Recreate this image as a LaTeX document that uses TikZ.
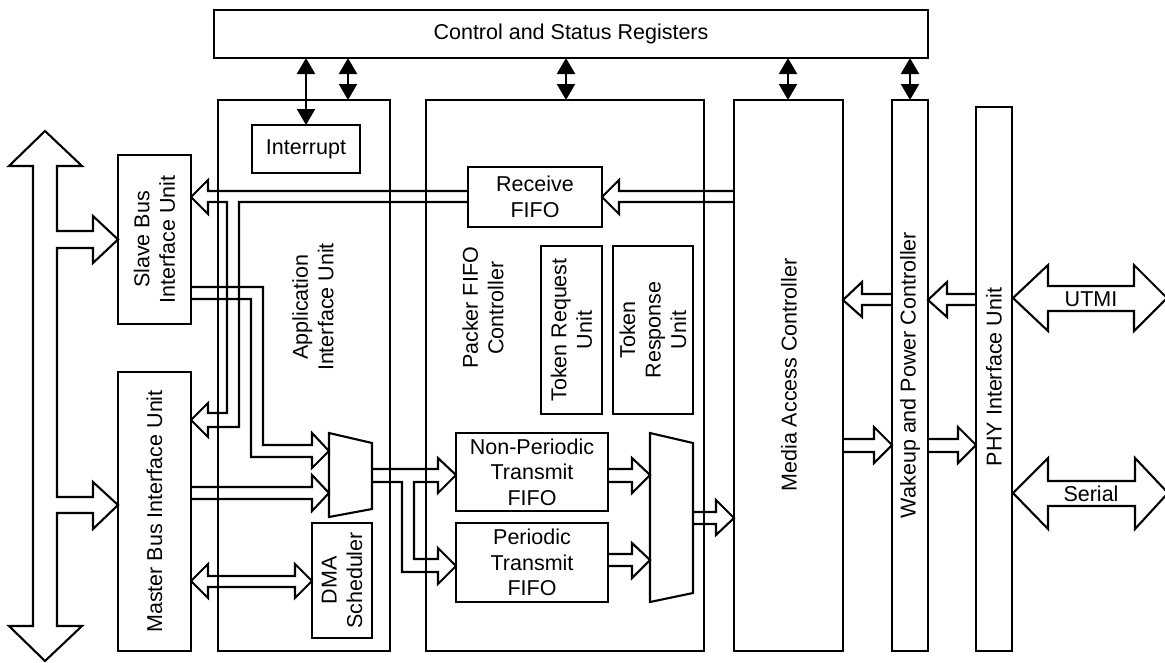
\documentclass[tikz,border=0pt]{standalone}
\usepackage{fontspec}
\setmainfont{Liberation Sans}
\usetikzlibrary{arrows.meta}
\begin{document}
\begin{tikzpicture}[x=1pt,y=-1pt,
  lw/.style={line width=2.1pt},
  box/.style={draw, line width=2.1pt, inner sep=0pt, outer sep=0pt},
  lbl/.style={font=\fontsize{21.5}{25.5}\selectfont, align=center, inner sep=0pt},
  vlbl/.style={lbl, rotate=90},
  barrow/.style={draw, line width=2.1pt, line join=miter},
  dblarr/.style={line width=2.1pt, {Triangle[length=16pt,width=18pt]}-{Triangle[length=16pt,width=18pt]}}]
\useasboundingbox (0,0) rectangle (1165,662);

% boxes
\node[box, lbl, minimum width=714pt, minimum height=48pt] (csr) at (571,34) {Control and Status Registers};
\node[box, minimum width=172pt, minimum height=551pt] (app) at (304,375.5) {};
\node[vlbl] (app-t) at (313,307) {Application\\Interface Unit};
\node[box, lbl, minimum width=108pt, minimum height=48pt] (intr) at (306,149) {Interrupt};
\node[box, minimum width=278pt, minimum height=551pt] (pfc) at (565,375.5) {};
\node[vlbl] (pfc-t) at (483,308) {Packer FIFO\\Controller};
\node[box, minimum width=109pt, minimum height=551pt] (mac) at (788.5,375.5) {};
\node[vlbl] (mac-t) at (789,375) {Media Access Controller};
\node[box, minimum width=36pt, minimum height=551pt] (wpc) at (910,375.5) {};
\node[vlbl] (wpc-t) at (910,375) {Wakeup and Power Controller};
\node[box, minimum width=36pt, minimum height=544pt] (phy) at (994,379) {};
\node[vlbl] (phy-t) at (994,377) {PHY Interface Unit};
\node[box, minimum width=73pt, minimum height=169pt] (slave) at (154.5,239.5) {};
\node[vlbl] (slave-t) at (154.5,239.5) {Slave Bus\\Interface Unit};
\node[box, minimum width=73pt, minimum height=279pt] (master) at (154.5,511.5) {};
\node[vlbl] (master-t) at (154.5,511.5) {Master Bus Interface Unit};
\node[box, lbl, minimum width=134pt, minimum height=60pt] (rx) at (535,197) {Receive\\FIFO};
\node[box, minimum width=61pt, minimum height=168pt] (treq) at (571.5,330) {};
\node[vlbl] (treq-t) at (571.5,330) {Token Request\\Unit};
\node[box, minimum width=80pt, minimum height=168pt] (tresp) at (653,330) {};
\node[vlbl] (tresp-t) at (653,330) {Token\\Response\\Unit};
\node[box, lbl, minimum width=152pt, minimum height=78pt] (npf) at (532,472) {Non-Periodic\\Transmit\\FIFO};
\node[box, lbl, minimum width=152pt, minimum height=79pt] (pf) at (532,562.5) {Periodic\\Transmit\\FIFO};
\node[box, minimum width=60pt, minimum height=115pt] (dma) at (342,580.5) {};
\node[vlbl] (dma-t) at (342,580.5) {DMA\\Scheduler};

% multiplexers
\draw[lw] (329,433) coordinate (mux1) -- (372,443) -- (372,509) -- (329,517) -- cycle;
\draw[lw] (650,433) coordinate (mux2) -- (693,443) -- (693,593) -- (650,602) -- cycle;

% register access arrows
\coordinate (x348) at (348,0);
\coordinate (x566) at (566,0);
\coordinate (x788) at (788,0);
\coordinate (x910) at (910,0);
\draw[dblarr] (csr.south -| intr.north) -- (intr.north);
\draw[dblarr] (csr.south -| x348) -- (app.north -| x348);
\draw[dblarr] (csr.south -| x566) -- (pfc.north -| x566);
\draw[dblarr] (csr.south -| x788) -- (mac.north -| x788);
\draw[dblarr] (csr.south -| x910) -- (wpc.north -| x910);

% system bus arrow with branches
\draw[barrow] (45,131) -- (82,166) -- (57,166) -- (57,231) -- (93,231) -- (93,216) -- (118,239.5) -- (93,263) -- (93,248) -- (57,248)
  -- (57,497) -- (93,497) -- (93,482) -- (118,505) -- (93,529) -- (93,513) -- (57,513)
  -- (57,626) -- (82,626) -- (45,661) -- (9,626) -- (33,626) -- (33,166) -- (9,166) -- cycle;

% receive path
\draw[barrow] (734,191) -- (619,191) -- (619,180) -- (602,197) -- (619,214) -- (619,202) -- (734,202);
\draw[barrow] (468,191) -- (208,191) -- (208,180) -- (191,197) -- (208,214) -- (208,202) -- (227,202)
  -- (227,413) -- (208,413) -- (208,403) -- (191,420) -- (208,437) -- (208,427) -- (239,427) -- (239,202) -- (468,202);

% slave to mux
\draw[barrow] (191,287) -- (263,287) -- (263,445) -- (312,445) -- (312,433) -- (329,451) -- (312,468) -- (312,457) -- (251,457) -- (251,299) -- (191,299);
% master to mux
\draw[barrow] (191,487) -- (312,487) -- (312,475) -- (329,493) -- (312,511) -- (312,499) -- (191,499);
% master <-> DMA
\draw[barrow] (208,576) -- (295,576) -- (295,564) -- (312,581) -- (295,598) -- (295,587) -- (208,587) -- (208,598) -- (191,581) -- (208,564) -- cycle;
% mux1 to transmit FIFOs
\draw[barrow] (372,469) -- (438,469) -- (438,458) -- (456,475) -- (438,493) -- (438,482) -- (414,482) -- (414,559) -- (438,559) -- (438,548) -- (456,566) -- (438,584) -- (438,572) -- (402,572) -- (402,482) -- (372,482);
% FIFOs to mux2
\draw[barrow] (608,469) -- (632,469) -- (632,458) -- (650,475) -- (632,493) -- (632,482) -- (608,482);
\draw[barrow] (608,554) -- (632,554) -- (632,543) -- (650,560) -- (632,578) -- (632,566) -- (608,566);
% mux2 to MAC
\draw[barrow] (693,512) -- (716,512) -- (716,500) -- (734,518) -- (716,535) -- (716,524) -- (693,524);
% MAC -> WPC -> PHY
\draw[barrow] (843,439) -- (874,439) -- (874,427) -- (892,445) -- (874,463) -- (874,452) -- (843,452);
\draw[barrow] (928,439) -- (958,439) -- (958,427) -- (976,445) -- (958,463) -- (958,452) -- (928,452);
% PHY -> WPC -> MAC
\draw[barrow] (976,294) -- (947,294) -- (947,282) -- (928,300) -- (947,317) -- (947,305) -- (976,305);
\draw[barrow] (892,294) -- (862,294) -- (862,282) -- (843,300) -- (862,317) -- (862,305) -- (892,305);

% external interfaces
\draw[barrow] (1013,298) -- (1048,265) -- (1048,286) -- (1134,286) -- (1134,265) -- (1167,298) -- (1134,331) -- (1134,311) -- (1048,311) -- (1048,331) -- cycle;
\node[lbl] (utmi) at (1091,299) {UTMI};
\draw[barrow] (1013,493) -- (1048,458) -- (1048,481) -- (1135,481) -- (1135,458) -- (1168,493) -- (1135,529) -- (1135,506) -- (1048,506) -- (1048,529) -- cycle;
\node[lbl] (serial) at (1091,494) {Serial};
\end{tikzpicture}
\end{document}
